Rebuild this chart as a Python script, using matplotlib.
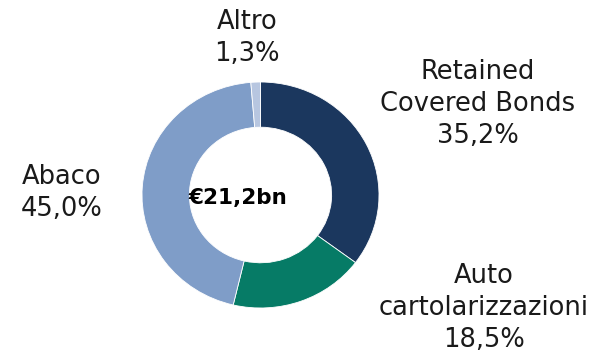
import matplotlib
matplotlib.use("Agg")
import matplotlib.pyplot as plt

W, H = 595, 357

segments = ["Retained\nCovered Bonds", "Auto\ncartolarizzazioni", "Abaco", "Altro"]
shares = [35.2, 18.5, 45.0, 1.3]
colors = ["#1b375e", "#067b66", "#7f9dc8", "#b7c6e0"]
total_label = "€21,2bn"

# where each label block is centred (pixels from top-left)
label_xy = [(478, 104), (484, 308), (62, 193), (247, 38)]

plt.rcParams["font.family"] = ["DejaVu Sans"]

fig = plt.figure(figsize=(W / 100, H / 100), dpi=100)
fig.patch.set_facecolor("white")

# donut axes: centre (260.5, 195), radii 118.5 x 113 px
cx, cy, rx, ry = 260.5, 195, 118.5, 113
ax = fig.add_axes([(cx - rx) / W, 1 - (cy + ry) / H, 2 * rx / W, 2 * ry / H])
ax.pie(shares, colors=colors, startangle=90, counterclock=False, radius=1,
       wedgeprops=dict(width=0.40, edgecolor="white", linewidth=0.6))
ax.set_aspect("auto")
ax.set_xlim(-1, 1)
ax.set_ylim(-1, 1)
ax.axis("off")

for name, val, (x, y) in zip(segments, shares, label_xy):
    txt = name + "\n" + f"{val:.1f}".replace(".", ",") + "%"
    fig.text(x / W, 1 - y / H, txt, ha="center", va="center", fontsize=18.5,
             color="#1a1a1a", linespacing=1.3)

fig.text(238 / W, 1 - 198 / H, total_label, ha="center", va="center",
         fontsize=15.5, fontweight="bold", color="black")

fig.savefig("out.png", dpi=100, facecolor="white")
